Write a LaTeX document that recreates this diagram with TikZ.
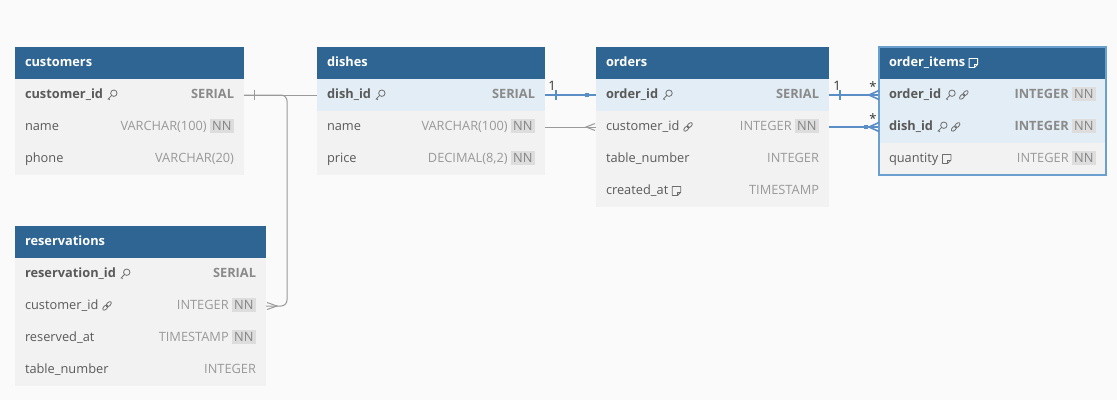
\documentclass[tikz,border=0pt]{standalone}
\usepackage{fontspec}
\setmainfont{Open Sans}
\usetikzlibrary{calc}
\definecolor{bgc}{HTML}{FAFAFA}
\definecolor{hdr}{HTML}{2F6593}
\definecolor{rowc}{HTML}{F2F2F2}
\definecolor{hlc}{HTML}{E2EDF5}
\definecolor{namec}{HTML}{5A5A5A}
\definecolor{typec}{HTML}{999999}
\definecolor{typebc}{HTML}{8A8A8A}
\definecolor{nnbg}{HTML}{DDDDDD}
\definecolor{nnc}{HTML}{858585}
\definecolor{glc}{HTML}{9A9A9A}
\definecolor{blc}{HTML}{5B8EC6}
\definecolor{selc}{HTML}{6A9FD0}
\definecolor{iconc}{HTML}{6E6E6E}
\definecolor{lblc}{HTML}{333333}
\pgfdeclarelayer{canvas}
\pgfdeclarelayer{background}
\pgfsetlayers{canvas,background,main}
\newcommand\nn{\hspace{3pt}{\normalfont\setlength{\fboxsep}{2.5pt}\colorbox{nnbg}{\textcolor{nnc}{NN}}}}
\newcommand\tblhead[5]{%
  \node[rowbox, fill=hdr, minimum width={#3pt-#2pt}, anchor=north west] (#1) at (#2,#4) {};
  \node[ttl, anchor=west] (#1-title) at ($(#1.west)+(10,0)$) {#5};}
\newcommand\frow[9]{%
  \node[rowbox, fill=#5, minimum width={#3pt-#2pt}, anchor=north west] (#1) at (#2,#4) {};
  \node[#6, anchor=west] (#1-n) at ($(#1.west)+(10,0)$) {#7};
  \node[#8, anchor=east] (#1-t) at ($(#1.east)+(-10,0)$) {#9};}
\tikzset{
  rowbox/.style={rectangle, inner sep=0pt, outer sep=0pt, minimum height=32pt, draw=none},
  txt/.style={inner sep=0pt, outer sep=0pt, text height=9.5pt, text depth=3pt},
  ttl/.style={txt, text=white, font=\fontsize{12.8}{14}\selectfont\bfseries},
  fname/.style={txt, text=namec, font=\fontsize{12.8}{14}\selectfont},
  fkey/.style={txt, text=namec, font=\fontsize{12.8}{14}\selectfont\bfseries},
  ftype/.style={txt, text=typec, font=\fontsize{12.8}{14}\selectfont},
  ftypeb/.style={txt, text=typebc, font=\fontsize{12.8}{14}\selectfont\bfseries},
  lbl/.style={inner sep=0pt, text=lblc, font=\fontsize{13}{14}\selectfont},
  icon/.style={draw=iconc, line width=0.8pt},
  wicon/.style={draw=white, line width=0.9pt},
  gline/.style={draw=glc, line width=1pt},
  bline/.style={draw=blc, line width=2pt},
  keyic/.pic={\draw[icon] (6.8,-1.8) circle (3.2); \draw[icon] (4.5,0.5) -- (0.8,4.4); \draw[icon] (1.5,3.6) -- (2.7,4.8);},
  linkic/.pic={\draw[icon] (2.9,1.6) ellipse [x radius=3.2, y radius=1.8, rotate=45];
               \draw[icon] (6.3,-1.8) ellipse [x radius=3.2, y radius=1.8, rotate=45];},
  noteic/.pic={\draw[icon, line join=round] (0,-4.5) -- (8.5,-4.5) -- (8.5,1.2) -- (5.2,4.5) -- (0,4.5) -- cycle;
               \draw[icon, line join=round] (8.5,1.2) -- (5.2,1.2) -- (5.2,4.5);},
  wnoteic/.pic={\draw[wicon, line join=round] (0,-4.5) -- (8.5,-4.5) -- (8.5,1.2) -- (5.2,4.5) -- (0,4.5) -- cycle;
               \draw[wicon, line join=round] (8.5,1.2) -- (5.2,1.2) -- (5.2,4.5);},
}
\begin{document}
\begin{tikzpicture}[x=1pt, y=-1pt]
\begin{pgfonlayer}{canvas}
\useasboundingbox[fill=bgc] (0,0) rectangle (1117,400);
\end{pgfonlayer}

% customers
\tblhead{cu}{15}{244}{47}{customers}
\frow{cu-1}{15}{244}{79}{rowc}{fkey}{customer\_id}{ftypeb}{SERIAL}
\frow{cu-2}{15}{244}{111}{rowc}{fname}{name}{ftype}{VARCHAR(100)\nn}
\frow{cu-3}{15}{244}{143}{rowc}{fname}{phone}{ftype}{VARCHAR(20)}
\pic at ($(cu-1-n.east)+(4,0)$) {keyic};

% dishes
\tblhead{di}{317}{545}{47}{dishes}
\frow{di-1}{317}{545}{79}{hlc}{fkey}{dish\_id}{ftypeb}{SERIAL}
\frow{di-2}{317}{545}{111}{rowc}{fname}{name}{ftype}{VARCHAR(100)\nn}
\frow{di-3}{317}{545}{143}{rowc}{fname}{price}{ftype}{DECIMAL(8,2)\nn}
\pic at ($(di-1-n.east)+(4,0)$) {keyic};

% orders
\tblhead{or}{596}{829}{47}{orders}
\frow{or-1}{596}{829}{79}{hlc}{fkey}{order\_id}{ftypeb}{SERIAL}
\frow{or-2}{596}{829}{111}{rowc}{fname}{customer\_id}{ftype}{INTEGER\nn}
\frow{or-3}{596}{829}{143}{rowc}{fname}{table\_number}{ftype}{INTEGER}
\frow{or-4}{596}{829}{175}{rowc}{fname}{created\_at}{ftype}{TIMESTAMP}
\pic at ($(or-1-n.east)+(4,0)$) {keyic};
\pic at ($(or-2-n.east)+(4,0)$) {linkic};
\pic at ($(or-4-n.east)+(4,0)$) {noteic};

% order_items
\tblhead{oi}{879}{1106}{47}{order\_items}
\frow{oi-1}{879}{1106}{79}{hlc}{fkey}{order\_id}{ftypeb}{INTEGER\nn}
\frow{oi-2}{879}{1106}{111}{hlc}{fkey}{dish\_id}{ftypeb}{INTEGER\nn}
\frow{oi-3}{879}{1106}{143}{rowc}{fname}{quantity}{ftype}{INTEGER\nn}
\pic at ($(oi-title.east)+(4,0)$) {wnoteic};
\pic at ($(oi-1-n.east)+(4,0)$) {keyic};
\pic at ($(oi-1-n.east)+(18,0)$) {linkic};
\pic at ($(oi-2-n.east)+(4,0)$) {keyic};
\pic at ($(oi-2-n.east)+(18,0)$) {linkic};
\pic at ($(oi-3-n.east)+(4,0)$) {noteic};
\draw[selc, line width=1.5pt] (oi.north west) rectangle (oi-3.south east);

% reservations
\tblhead{re}{15}{266}{226}{reservations}
\frow{re-1}{15}{266}{258}{rowc}{fkey}{reservation\_id}{ftypeb}{SERIAL}
\frow{re-2}{15}{266}{290}{rowc}{fname}{customer\_id}{ftype}{INTEGER\nn}
\frow{re-3}{15}{266}{322}{rowc}{fname}{reserved\_at}{ftype}{TIMESTAMP\nn}
\frow{re-4}{15}{266}{354}{rowc}{fname}{table\_number}{ftype}{INTEGER}
\pic at ($(re-1-n.east)+(4,0)$) {keyic};
\pic at ($(re-2-n.east)+(4,0)$) {linkic};

% connectors (behind tables)
\begin{pgfonlayer}{background}
  \draw[gline, rounded corners=6pt] (cu-1.east) -- ++(43,0) |- (re-2.east);
  \draw[gline] (cu-1.east) -- ++(90,0) |- (or-2.west);
  \draw[bline] (di-1.east) -- ++(60,0) |- (oi-2.west);
  \draw[bline] (or-1.east) -- (oi-1.west);
\end{pgfonlayer}

% end markers
\draw[gline] ($(cu-1.east)+(10,-5)$) -- ++(0,10);
\draw[gline] ($(re-2.east)+(1,-3.5)$) -- ++(10,3.5) -- ++(-10,3.5);
\draw[gline] ($(or-2.west)+(-1,-3.5)$) -- ++(-9,3.5) -- ++(9,3.5);
\draw[blc, line width=1.2pt] ($(di-1.east)+(11,-5)$) -- ++(0,10);
\fill[blc] ($(di-1.east)+(42,0)$) +(-1.75,-1.75) rectangle +(1.75,1.75);
\draw[blc, line width=1.2pt] ($(or-1.east)+(11,-5)$) -- ++(0,10);
\fill[blc] ($(oi-2.west)+(-13,0)$) +(-1.75,-1.75) rectangle +(1.75,1.75);
\draw[blc, line width=1.6pt] ($(oi-1.west)+(0,-4.5)$) -- ++(-10,4.5) -- ++(10,4.5);
\draw[blc, line width=1.6pt] ($(oi-2.west)+(0,-4.5)$) -- ++(-10,4.5) -- ++(10,4.5);

% cardinality labels
\node[lbl] (l-di) at ($(di-1.east)+(7,-9)$) {1};
\node[lbl] (l-or) at ($(or-1.east)+(8,-9)$) {1};
\node[lbl] (s-oi1) at ($(oi-1.west)+(-6,-8)$) {*};
\node[lbl] (s-oi2) at ($(oi-2.west)+(-6,-8)$) {*};
\end{tikzpicture}
\end{document}
